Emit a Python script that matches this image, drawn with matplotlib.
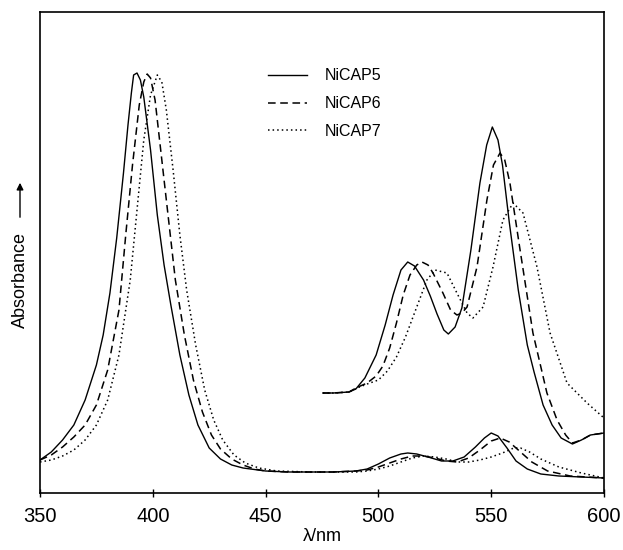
import numpy as np
import matplotlib
matplotlib.use("Agg")
import matplotlib.pyplot as plt

plt.rcParams['font.family'] = ['Liberation Sans', 'DejaVu Sans']

# full-range spectra (arbitrary absorbance units)
wl_cap5 = [350, 355, 360, 365, 370, 375, 378, 381, 384, 387, 389, 390.5, 391.5, 393, 394.5, 396,
           399, 402, 405, 408, 412, 416, 420, 425, 430, 435, 440, 450, 460, 470, 480, 490, 495,
           500, 505, 510, 513, 517, 522, 528, 533, 538, 543, 547, 550, 553, 557, 561, 566, 572,
           580, 590, 600]
abs_cap5 = [0.33, 0.41, 0.53, 0.68, 0.93, 1.28, 1.58, 2.00, 2.55, 3.20, 3.68, 4.00, 4.18, 4.20,
            4.13, 3.96, 3.43, 2.78, 2.28, 1.88, 1.38, 0.98, 0.68, 0.45, 0.34, 0.28, 0.25, 0.22,
            0.21, 0.21, 0.21, 0.22, 0.24, 0.29, 0.35, 0.39, 0.40, 0.39, 0.36, 0.32, 0.32, 0.36,
            0.46, 0.55, 0.60, 0.57, 0.45, 0.32, 0.24, 0.19, 0.17, 0.16, 0.15]

wl_cap6 = [350, 355, 360, 365, 370, 375, 380, 385, 388, 391, 394, 396, 397.5, 399, 401, 404, 407,
           410, 414, 418, 422, 426, 430, 435, 440, 445, 450, 460, 470, 480, 490, 495, 500, 505,
           510, 515, 520, 525, 530, 535, 540, 545, 550, 554, 558, 562, 568, 575, 585, 600]
abs_cap6 = [0.33, 0.38, 0.46, 0.56, 0.68, 0.88, 1.23, 1.83, 2.58, 3.28, 3.88, 4.11, 4.19, 4.15,
            3.93, 3.33, 2.73, 2.13, 1.58, 1.13, 0.81, 0.58, 0.44, 0.34, 0.28, 0.24, 0.22, 0.21,
            0.21, 0.21, 0.22, 0.23, 0.26, 0.30, 0.34, 0.37, 0.37, 0.35, 0.32, 0.31, 0.35, 0.43,
            0.52, 0.55, 0.51, 0.43, 0.31, 0.22, 0.17, 0.15]

wl_cap7 = [350, 355, 360, 365, 370, 375, 380, 385, 390, 393, 396, 399, 402, 404, 406, 409, 412,
           415, 419, 423, 427, 431, 436, 441, 447, 455, 470, 480, 490, 495, 500, 505, 510, 515,
           520, 525, 530, 535, 540, 545, 550, 555, 560, 563, 567, 572, 580, 590, 600]
abs_cap7 = [0.31, 0.33, 0.37, 0.43, 0.53, 0.68, 0.93, 1.38, 2.13, 2.83, 3.53, 3.98, 4.18, 4.11,
            3.83, 3.23, 2.58, 2.03, 1.48, 1.03, 0.73, 0.53, 0.38, 0.30, 0.25, 0.22, 0.21, 0.21,
            0.21, 0.22, 0.24, 0.27, 0.31, 0.35, 0.37, 0.36, 0.34, 0.31, 0.31, 0.33, 0.36, 0.40,
            0.45, 0.45, 0.41, 0.34, 0.26, 0.20, 0.15]

# expanded Q-band region (offset)
wlq_cap5 = [475.4, 480, 487, 490, 494, 499, 503, 506.5, 510, 513, 516, 520, 523, 526, 529, 531,
            534, 537, 541, 545, 548, 550.5, 553, 555, 558, 562, 566, 569, 573, 577, 581, 586,
            590, 594, 600]
absq_cap5 = [1.00, 1.00, 1.01, 1.04, 1.15, 1.38, 1.68, 1.98, 2.23, 2.31, 2.27, 2.13, 1.97, 1.79,
             1.63, 1.59, 1.66, 1.85, 2.43, 3.10, 3.48, 3.66, 3.53, 3.28, 2.71, 2.03, 1.48, 1.21,
             0.88, 0.68, 0.55, 0.49, 0.53, 0.58, 0.60]

wlq_cap6 = [475.4, 480, 487, 490, 495, 499, 502, 505, 508, 511, 514, 517, 519.3, 522, 524.2,
            528.6, 532, 534.8, 537, 539.3, 543.7, 548.1, 551, 553.9, 556, 558.3, 562.8, 568.5,
            574.7, 579.2, 583, 586, 590, 594, 600]
absq_cap6 = [1.00, 1.00, 1.01, 1.05, 1.10, 1.17, 1.27, 1.45, 1.70, 1.98, 2.18, 2.28, 2.31, 2.28,
             2.20, 2.00, 1.83, 1.78, 1.80, 1.86, 2.26, 2.93, 3.28, 3.40, 3.33, 3.10, 2.43, 1.60,
             1.00, 0.73, 0.58, 0.50, 0.53, 0.58, 0.60]

wlq_cap7 = [475.4, 480, 487, 490.5, 495, 500, 504, 508, 512, 517, 521.5, 525.1, 530.4, 534.8,
            539.3, 541.9, 546.4, 550.8, 555.2, 559.7, 564.1, 570.3, 576.1, 583.6, 592.5, 600]
absq_cap7 = [1.00, 1.00, 1.01, 1.05, 1.09, 1.13, 1.22, 1.36, 1.56, 1.86, 2.13, 2.23, 2.20, 2.00,
             1.80, 1.75, 1.86, 2.26, 2.73, 2.90, 2.80, 2.26, 1.60, 1.10, 0.90, 0.75]

labels = ['NiCAP5', 'NiCAP6', 'NiCAP7']
styles = ['-', (0, (5, 3)), (0, (1, 2))]

fig = plt.figure(figsize=(6.23, 5.5), dpi=100)
ax = fig.add_axes([40 / 623, 57 / 550, 564 / 623, 481 / 550])

full = [(wl_cap5, abs_cap5), (wl_cap6, abs_cap6), (wl_cap7, abs_cap7)]
inset = [(wlq_cap5, absq_cap5), (wlq_cap6, absq_cap6), (wlq_cap7, absq_cap7)]
for (x, y), (xq, yq), lab, ls in zip(full, inset, labels, styles):
    lw = 1.0 if ls == '-' else 1.1
    ax.plot(x, y, color='black', linestyle=ls, linewidth=lw, label=lab)
    ax.plot(xq, yq, color='black', linestyle=ls, linewidth=lw)

ax.set_xlim(350, 600)
ax.set_ylim(0, 4.81)
ax.set_xticks(np.arange(350, 601, 50))
ax.set_yticks([])
ax.tick_params(axis='x', direction='inout', length=6, width=1, pad=7, labelsize=14.5)
for s in ax.spines.values():
    s.set_linewidth(1.2)

leg = ax.legend(loc='upper left', bbox_to_anchor=(222 / 564, 1 - 50 / 481), frameon=False,
                fontsize=11.5, handlelength=2.4, handletextpad=1.1, labelspacing=0.8,
                borderaxespad=0)

ax.set_xlabel('λ/nm', fontsize=13)
ax.xaxis.set_label_coords(0.5, -35 / 481)

fig.text(20 / 623, 1 - 280 / 550, 'Absorbance', rotation=90, ha='center', va='center', fontsize=13)
ax.annotate('', xy=(20 / 623, 1 - 180 / 550), xytext=(20 / 623, 1 - 220 / 550),
            xycoords='figure fraction', textcoords='figure fraction',
            arrowprops=dict(arrowstyle='-|>', color='black', lw=1, mutation_scale=10))

fig.savefig('out.png', dpi=100)
